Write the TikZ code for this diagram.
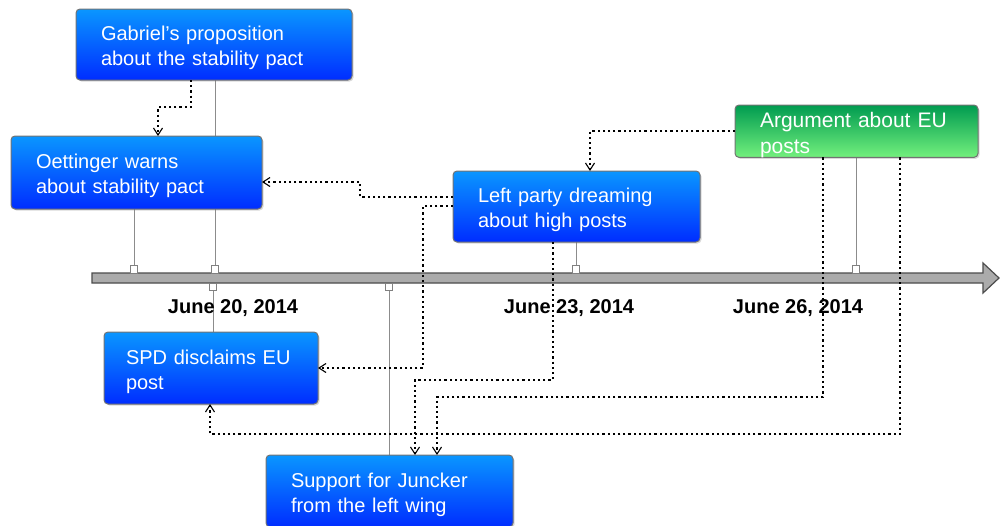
\documentclass[tikz,border=0pt]{standalone}
\usepackage{fontspec}
\setmainfont{Liberation Sans}
\usepackage{tikz}
\usetikzlibrary{arrows.meta,shadows,backgrounds}
\definecolor{evtTop}{RGB}{10,150,255}
\definecolor{evtBot}{RGB}{0,45,255}
\definecolor{grnTop}{RGB}{0,155,80}
\definecolor{grnBot}{RGB}{115,240,125}

\begin{document}
\begin{tikzpicture}[x=1pt, y=-1pt, >={Straight Barb[length=7pt,width=9pt]},
  evt/.style={draw=black!55, line width=1pt, rounded corners=4pt,
    top color=evtTop, bottom color=evtBot, text=white, align=left,
    inner xsep=25pt, inner ysep=0pt, outer sep=0pt, anchor=north west,
    font=\fontsize{20}{25}\selectfont, execute at begin node={\rule{0pt}{22pt}},
    drop shadow={opacity=0.3, shadow xshift=1.5pt, shadow yshift=-1.5pt}},
  grn/.style={top color=grnTop, bottom color=grnBot, font=\fontsize{21}{26}\selectfont},
  tk/.style={draw=black!50, fill=white, line width=0.8pt, minimum size=7.5pt, inner sep=0pt},
  stem/.style={draw=black!45, line width=1pt},
  link/.style={->, line width=1.1pt, dash pattern=on 2.2pt off 3pt},
  day/.style={anchor=base, font=\bfseries\fontsize{20}{24}\selectfont}]
  \useasboundingbox (0,0) rectangle (1000,525);

  \node[evt, text width=226pt, minimum height=71pt] (gab) at (76,9) {Gabriel's proposition\\about the stability pact};
  \node[evt, text width=201pt, minimum height=73pt] (oet) at (11,136) {Oettinger warns\\about stability pact};
  \node[evt, text width=197pt, minimum height=71pt] (left) at (453,171) {Left party dreaming\\about high posts};
  \node[evt, grn, text width=193pt, minimum height=52pt] (arg) at (735,105) {Argument about EU\\posts};
  \node[evt, text width=170pt, inner xsep=22pt, minimum height=72pt] (spd) at (104,332) {SPD disclaims EU\\post};
  \node[evt, text width=197pt, minimum height=72pt] (sup) at (266,455) {Support for Juncker\\from the left wing};

  \node[tk] (tkoet)  at (134,269.5) {};
  \node[tk] (tkgab)  at (215,269.5) {};
  \node[tk] (tkleft) at (576,269.5) {};
  \node[tk] (tkarg)  at (856,269.5) {};
  \node[tk] (tkspd)  at (213,287) {};
  \node[tk] (tksup)  at (389,287) {};

  \begin{scope}[on background layer]
    \draw[stem] (oet.south -| tkoet) -- (tkoet);
    \draw[stem] (gab.south -| tkgab) -- (tkgab);
    \draw[stem] (left.south -| tkleft) -- (tkleft);
    \draw[stem] (arg.south -| tkarg) -- (tkarg);
    \draw[stem] (tkspd) -- (spd.north -| tkspd);
    \draw[stem] (tksup) -- (sup.north -| tksup);
    \draw[fill=black!33, draw=black!70, line width=1.2pt] (92,273) -- (983,273) -- (983,263)
      -- (999,278) -- (983,293) -- (983,283) -- (92,283) -- cycle;
  \end{scope}

  \node[day] (d20) at (233,313) {June 20, 2014};
  \node[day] (d23) at (569,313) {June 23, 2014};
  \node[day] (d26) at (798,313) {June 26, 2014};

  \draw[link] (gab.south -| 191,0) |- (158,107) -- (oet.north -| 158,0);
  \draw[link] (left.west |- 0,197) -| (360,182) -- (oet.east |- 0,182);
  \draw[link] (left.west |- 0,206) -| (423,368) -- (spd.east |- 0,368);
  \draw[link] (left.south -| 553,0) |- (415,380) -- (sup.north -| 415,0);
  \draw[link] (arg.west |- 0,131) -| (left.north -| 590,0);
  \draw[link] (arg.south -| 823,0) |- (437,397) -- (sup.north -| 437,0);
  \draw[link] (arg.south -| 900,0) |- (210,434) -- (spd.south -| 210,0);
\end{tikzpicture}
\end{document}
